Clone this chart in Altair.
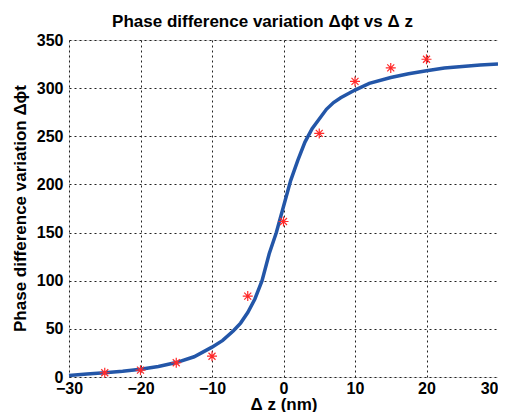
import altair as alt
import pandas as pd

# Fitted curve
curve_z = [-30, -27.5, -25, -22.5, -20, -17.5, -15, -12.5, -10, -8.5, -7, -6, -5, -4, -3, -2, -1, 0,
           1, 2, 3, 4, 5, 6, 7, 8, 10, 12, 15, 17.5, 20, 22.5, 25, 27.5, 30]
curve_phi = [1.5, 3, 4.5, 6, 8, 11, 15, 21, 31, 38, 48, 56, 67, 81, 100, 128, 150, 177,
             204, 225, 244, 258, 268, 278, 285, 290, 298, 305, 311, 315, 318, 321, 322.5, 324, 325]

# Measured points (red stars)
meas_z = [-25, -20, -15, -10, -5, 0, 5, 10, 15, 20]
meas_phi = [4.4, 7.1, 14.8, 21.6, 84, 161.5, 253, 307, 321, 330]

curve = pd.DataFrame({"z": curve_z, "phi": curve_phi})
meas = pd.DataFrame({"z": meas_z, "phi": meas_phi})

FONT = "Liberation Sans"

xscale = alt.Scale(domain=[-30, 30], nice=False, zero=False)
yscale = alt.Scale(domain=[0, 350], nice=False)

xaxis = alt.Axis(values=[-30, -20, -10, 0, 10, 20, 30], title="Δ z (nm)",
                 grid=True, gridDash=[2, 3], gridColor="#222", gridWidth=1, gridOpacity=1,
                 tickSize=0, domain=False, labelFont=FONT, labelFontSize=16, labelFontWeight="bold",
                 labelColor="black", labelPadding=3, titleFont=FONT, titleFontSize=17,
                 titleFontWeight="bold", titleColor="black", titleY=32, titleBaseline="alphabetic",
                 labelFlush=False,
                 labelAlign={"condition": {"test": "datum.value == 30", "value": "right"},
                             "value": "center"})
yaxis = alt.Axis(values=[0, 50, 100, 150, 200, 250, 300, 350], title="Phase difference variation  Δϕt",
                 grid=True, gridDash=[2, 3], gridColor="#222", gridWidth=1, gridOpacity=1,
                 tickSize=0, domain=False, labelFont=FONT, labelFontSize=16, labelFontWeight="bold",
                 labelColor="black", labelPadding=6, titleFont=FONT, titleFontSize=17,
                 titleFontWeight="bold", titleColor="black", titleY=168, titleX=-44,
                 titleBaseline="alphabetic", titleAngle=270, titleAlign="center")

line = alt.Chart(curve).mark_line(color="#2356a8", strokeWidth=3.5).encode(
    x=alt.X("z:Q", scale=xscale, axis=xaxis),
    y=alt.Y("phi:Q", scale=yscale, axis=yaxis),
)

star_path = "M-1,0L1,0M0,-1L0,1M-0.7,-0.7L0.7,0.7M-0.7,0.7L0.7,-0.7"
stars = alt.Chart(meas).mark_point(shape=star_path, filled=False, color="#ff2a2a",
                                   size=100, strokeWidth=1.2, opacity=1).encode(
    x=alt.X("z:Q", scale=xscale),
    y=alt.Y("phi:Q", scale=yscale),
)

chart = alt.layer(line, stars).properties(
    width=429, height=337,
    title=alt.TitleParams("Phase difference variation Δϕt vs Δ z", font=FONT, fontSize=17,
                          fontWeight="bold", color="black", anchor="middle", dx=-21, offset=1,
                          frame="group"),
    autosize=alt.AutoSizeParams(type="none"),
    padding={"left": 61, "top": 32, "right": 0, "bottom": 35},
).configure_view(stroke="black", strokeWidth=1).configure(background="white")

chart.save("out.html", embed_options={"renderer": "svg", "actions": False})
